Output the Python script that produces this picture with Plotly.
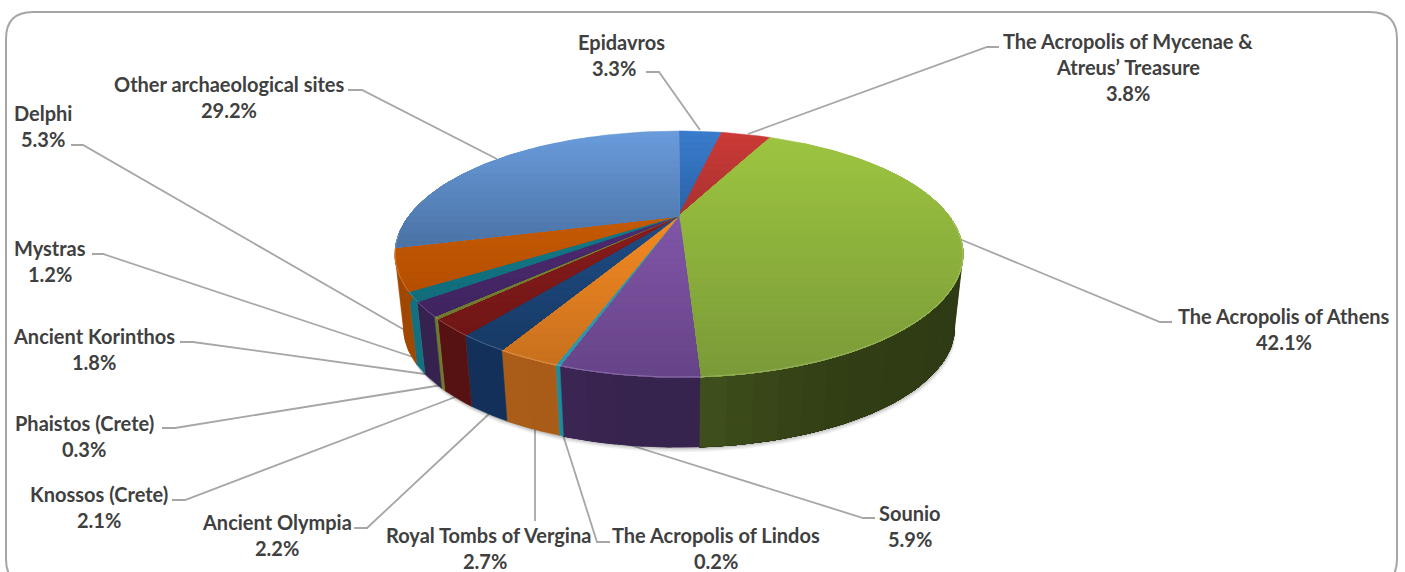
import math
import plotly.graph_objects as go

# ---------- data ----------
sites = ["Epidavros", "The Acropolis of Mycenae &<br>Atreus’ Treasure", "The Acropolis of Athens", "Sounio",
         "The Acropolis of Lindos", "Royal Tombs of Vergina", "Ancient Olympia", "Knossos (Crete)",
         "Phaistos (Crete)", "Ancient Korinthos", "Mystras", "Delphi", "Other archaeological sites"]
shares = [3.3, 3.8, 42.1, 5.9, 0.2, 2.7, 2.2, 2.1, 0.3, 1.8, 1.2, 5.3, 29.2]

# ---------- styles ----------
top_start = ["#3a7ccc", "#cc3a37", "#9dc540", "#8056a8", "#2f9cb0", "#f58a22", "#1f4d85", "#8a1c1c",
             "#7a8a30", "#4f2b72", "#137a88", "#c55a05", "#6a9cdc"]
top_end = ["#2a62a6", "#a83230", "#7a9a38", "#674488", "#2f96aa", "#c8701e", "#173a66", "#701616",
           "#6f7a2e", "#3f2460", "#126c7a", "#b54f00", "#4a72a5"]
wall_start = ["#1f4a80", "#7a2020", "#2f3b14", "#37244e", "#1f8a9a", "#a85c18", "#12305a", "#561212",
              "#6f7a2e", "#35224e", "#13707f", "#a04800", "#a04800"]
wall_end = ["#1f4a80", "#7a2020", "#41521c", "#40295a", "#1f8a9a", "#b5651c", "#143664", "#621616",
            "#6f7a2e", "#3c2656", "#13707f", "#b35000", "#a04800"]

# projection of the pie's plane (pixels on the hidden axes)
CX, CY, A, B, K = 679, 216, 270, 111.3, 0.309
BOTTOM_CY, BOTTOM_S = 291, 0.97
WALL_FROM, WALL_TO = math.radians(60), math.radians(290)
TEXT = "#404040"
LINE = "#a6a6a6"
ROW = 26

# label placement: (x of name, y of first row, x of percent)
label_pos = [(621, 42, 614), (1128, 41, 1128), (1284, 316, 1284), (910, 513, 910), (716, 535, 716),
             (488, 535, 485), (277, 522, 277), (99, 494, 99), (84, 423, 84), (94, 336, 94),
             (50, 248, 50), (43, 113, 43), (229, 84, 229)]
leaders = [
    [(646, 72), (659, 72), (700, 130)],
    [(999, 47), (987, 47), (748, 134)],
    [(1172, 322), (1160, 322), (962, 240)],
    [(875, 518), (863, 518), (630, 445)],
    [(610, 542), (597, 542), (563, 435)],
    [(535, 521), (535, 428)],
    [(354, 528), (367, 528), (490, 413)],
    [(172, 500), (185, 500), (458, 396)],
    [(162, 428), (175, 428), (442, 385)],
    [(180, 342), (193, 342), (432, 375)],
    [(92, 254), (103, 254), (422, 360)],
    [(71, 145), (83, 145), (408, 332)],
    [(348, 90), (362, 90), (497, 159)],
]


def hex2rgb(h):
    return tuple(int(h[i:i + 2], 16) for i in (1, 3, 5))


def mix(c0, c1, t):
    a, b = hex2rgb(c0), hex2rgb(c1)
    return "rgb(%d,%d,%d)" % tuple(round(a[i] + (b[i] - a[i]) * t) for i in range(3))


def project(theta, r=1.0, cy=CY, s=1.0):
    u, v = r * math.sin(theta), -r * math.cos(theta)
    w = 1 - K * v
    return CX + s * A * u / w, cy + s * B * v / w


def clip_top(points, y0):
    out = []
    for i, p in enumerate(points):
        q = points[(i + 1) % len(points)]
        if p[1] >= y0:
            out.append(p)
        if (p[1] >= y0) != (q[1] >= y0):
            t = (y0 - p[1]) / (q[1] - p[1])
            out.append((p[0] + t * (q[0] - p[0]), y0))
    return out


def fill(fig, pts, color, lw=0.5):
    xs = [p[0] for p in pts] + [pts[0][0]]
    ys = [p[1] for p in pts] + [pts[0][1]]
    fig.add_trace(go.Scatter(x=xs, y=ys, mode="lines", fill="toself", fillcolor=color,
                             line=dict(color=color, width=lw), hoverinfo="skip", showlegend=False))


fig = go.Figure()

# leader lines
for pts in leaders:
    fig.add_trace(go.Scatter(x=[p[0] for p in pts], y=[p[1] for p in pts], mode="lines",
                             line=dict(color=LINE, width=1.8), hoverinfo="skip", showlegend=False))

# soft shadow
for off, alpha in [(5, 0.05), (3.5, 0.07), (2, 0.10)]:
    ring = [project(2 * math.pi * i / 180, cy=BOTTOM_CY, s=BOTTOM_S) for i in range(180)]
    fill(fig, [(x + off * 0.3, y + off) for x, y in ring], "rgba(0,0,0,%s)" % alpha, 0)

# slice boundaries from the values
total = sum(shares)
edges = [0.0]
for v in shares:
    edges.append(edges[-1] + v / total * 2 * math.pi)

# walls: only the visible part; each step paints from its own start to the end of the slice
for i in range(len(shares)):
    a0, a1 = max(edges[i], WALL_FROM), min(edges[i + 1], WALL_TO)
    if a1 <= a0:
        continue
    steps = max(1, int((a1 - a0) / math.radians(4)))
    for j in range(steps):
        t0 = a0 + (a1 - a0) * j / steps
        n = max(2, int((a1 - t0) / math.radians(1.5)))
        arc = [t0 + (a1 - t0) * m / n for m in range(n + 1)]
        poly = [project(t) for t in arc] + [project(t, cy=BOTTOM_CY, s=BOTTOM_S) for t in reversed(arc)]
        fill(fig, poly, mix(wall_start[i], wall_end[i], ((j + 0.5) / steps) ** 8))

# top face: each band paints from its own top to the foot of the slice
BAND = 6
for i in range(len(shares)):
    a0, a1 = edges[i], edges[i + 1]
    n = max(2, int((a1 - a0) / math.radians(1.5)))
    poly = [(CX, CY)] + [project(a0 + (a1 - a0) * k / n) for k in range(n + 1)]
    ymin, ymax = min(p[1] for p in poly), max(p[1] for p in poly)
    count = max(1, int((ymax - ymin) / BAND))
    for b in range(count):
        part = clip_top(poly, ymin + (ymax - ymin) * b / count)
        if len(part) >= 3:
            fill(fig, part, mix(top_start[i], top_end[i], (b + 0.5) / count))

# rim highlight on the visible front edge
front = [project(math.radians(d)) for d in range(92, 262)]
fig.add_trace(go.Scatter(x=[p[0] for p in front], y=[p[1] for p in front], mode="lines",
                         line=dict(color="rgba(255,255,255,0.22)", width=1),
                         hoverinfo="skip", showlegend=False))

# labels
annotations = []
for name, value, (nx, ny, px) in zip(sites, shares, label_pos):
    rows = name.split("<br>")
    for r, row in enumerate(rows):
        annotations.append(dict(x=nx, y=ny + r * ROW, text=row))
    annotations.append(dict(x=px, y=ny + len(rows) * ROW, text=f"{value:.1f}%"))
for a in annotations:
    a.update(xref="x", yref="y", showarrow=False, xanchor="center", yanchor="middle",
             font=dict(family="Lato", size=20, color=TEXT, weight=700))

# rounded frame
L, T, R, Bt, C = 6, 12, 1397, 586, 27
frame = (f"M {L} {T + C} Q {L} {T} {L + C} {T} L {R - C} {T} Q {R} {T} {R} {T + C} "
         f"L {R} {Bt - C} Q {R} {Bt} {R - C} {Bt} L {L + C} {Bt} Q {L} {Bt} {L} {Bt - C} Z")

fig.update_layout(
    width=1405, height=572, margin=dict(l=0, r=0, t=0, b=0),
    paper_bgcolor="white", plot_bgcolor="white", showlegend=False,
    xaxis=dict(range=[0, 1405], visible=False, fixedrange=True),
    yaxis=dict(range=[572, 0], visible=False, fixedrange=True),
    annotations=annotations,
    shapes=[dict(type="path", path=frame, xref="x", yref="y", layer="below",
                 line=dict(color="#a6a6a6", width=2))],
)
fig.write_html("out.html", config={"displayModeBar": False},
               post_script="document.body.style.margin='0';document.body.style.overflow='hidden';")
